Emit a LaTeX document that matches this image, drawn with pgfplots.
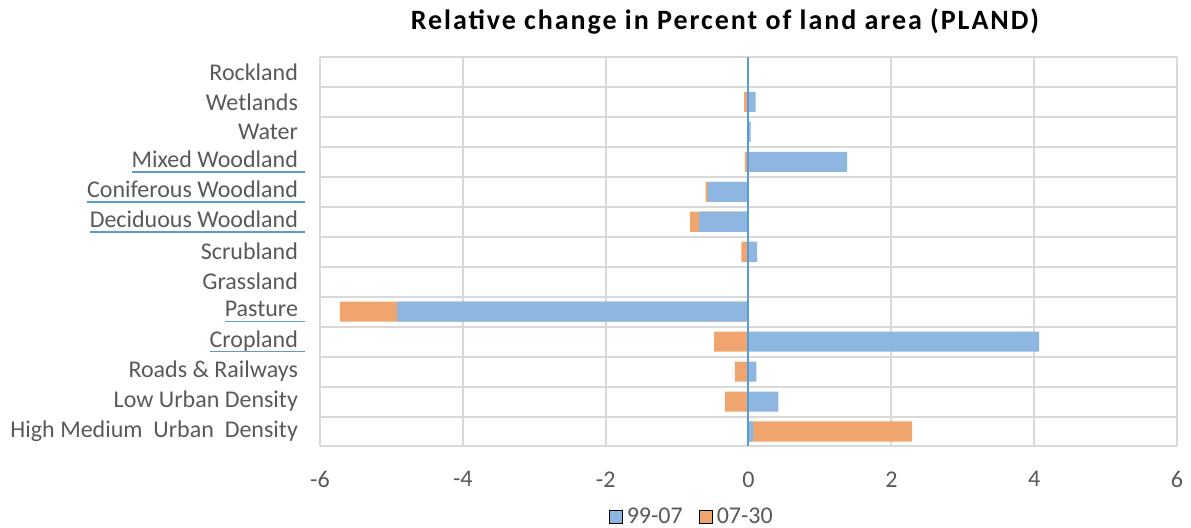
\documentclass[border=0pt]{standalone}
\usepackage{pgfplots}
\usepackage{pgfplotstable}
\pgfplotsset{compat=1.18}
\usepackage{fontspec}
\setmainfont{Carlito}
\newfontfamily\titlefont[LetterSpace=7]{Carlito}

\definecolor{barblue}{HTML}{8DB7E1}
\definecolor{barorange}{HTML}{F0A56E}
\definecolor{zeroblue}{HTML}{5B9BD5}
\definecolor{gridgray}{HTML}{D9D9D9}
\definecolor{labelgray}{HTML}{595959}

% blue spell-check style underline under some labels
\newcommand\ul[1]{\setbox0\hbox{#1}\copy0\rlap{\hskip-\wd0\textcolor{zeroblue}{\rule[-2.4pt]{\dimexpr\wd0+3.5pt\relax}{0.6pt}}}}

% y: 0 = High Medium Urban Density ... 12 = Rockland
% orange bar is drawn to the end of the stack (99-07 + 07-30 when same sign)
\pgfplotstableread{
y   b9907   o0730
0    0.07    2.29
1    0.42   -0.33
2    0.11   -0.19
3    4.07   -0.48
4   -4.92   -5.72
5    0.00    0.00
6    0.12   -0.10
7   -0.69   -0.82
8   -0.57   -0.60
9    1.38   -0.05
10   0.03   -0.02
11   0.10   -0.06
12   0.00    0.00
}\pland

\begin{document}
\begin{tikzpicture}
\path[use as bounding box] (-160pt,-40.75pt) rectangle (435.5pt,223.25pt);
\begin{axis}[
    scale only axis,
    width=428.5pt, height=194.75pt,
    xbar, bar shift=0pt, bar width=0.67,
    xmin=-6, xmax=6, ymin=-0.5, ymax=12.5,
    xtick={-6,-4,...,6},
    ytick={0,...,12},
    yticklabels={High Medium\ \ Urban\ \ Density,Low Urban Density,Roads \& Railways,\ul{Cropland},\ul{Pasture},Grassland,Scrubland,\ul{Deciduous Woodland},\ul{Coniferous Woodland},\ul{Mixed Woodland},Water,Wetlands,Rockland},
    minor ytick={-0.5,0.5,...,12.5},
    xmajorgrids, yminorgrids,
    grid style={gridgray, line width=1pt},
    minor grid style={gridgray, line width=1pt},
    major tick length=0pt, minor tick length=0pt,
    axis line style={draw=none},
    tick label style={font=\fontsize{12}{14}\selectfont, text=labelgray},
    /pgf/number format/assume math mode=true,
    xticklabel style={yshift=-9pt},
    yticklabel style={xshift=-7.5pt},
    title={Relative change in Percent of land area (PLAND)},
    title style={font=\titlefont\fontsize{14}{16}\selectfont\bfseries, at={(0.4726,1)}, anchor=center, yshift=12pt},
    legend style={draw=none, at={(0.435,-0.181)}, anchor=center,
        font=\fontsize{12}{14}\selectfont, text=labelgray,
        legend columns=2, /tikz/every even column/.append style={column sep=6pt}},
    legend image code/.code={\fill[#1] (0pt,-3.3pt) rectangle (6.6pt,3.3pt);},
]
\addplot[fill=barorange, draw=none, forget plot] table[x=o0730, y=y] {\pland};
\addplot[fill=barblue, draw=none, forget plot] table[x=b9907, y=y] {\pland};
\draw[zeroblue, line width=1pt] (axis cs:0,-0.5) -- (axis cs:0,12.5);
\addlegendimage{fill=barblue}
\addlegendentry{99-07}
\addlegendimage{fill=barorange}
\addlegendentry{07-30}
\end{axis}
\end{tikzpicture}
\end{document}
